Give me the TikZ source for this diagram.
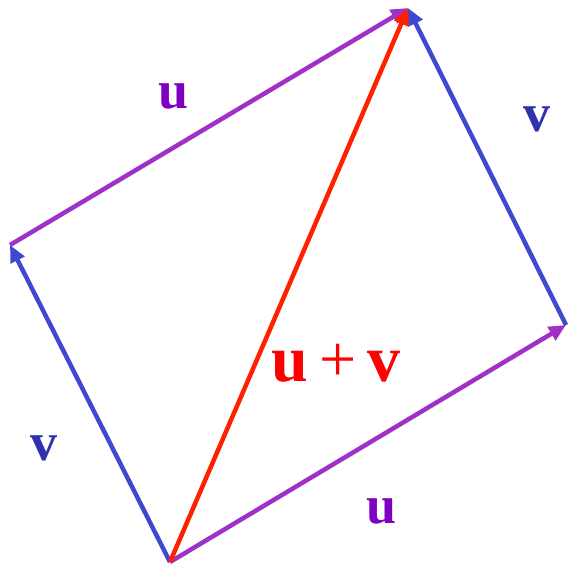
\documentclass[tikz,border=0pt]{standalone}
\usepackage{fontspec}
\setmainfont{Liberation Serif}
\usetikzlibrary{arrows.meta}
\definecolor{vecu}{RGB}{160,48,200}
\definecolor{vecv}{RGB}{64,72,210}
\definecolor{vecs}{RGB}{255,32,0}
\definecolor{labu}{RGB}{128,0,192}
\definecolor{labv}{RGB}{48,48,176}
\definecolor{labs}{RGB}{255,0,0}
\tikzset{
  vec/.style={line width=4.5pt, -{Triangle[length=17pt,width=15pt]}},
  lab/.style={font=\bfseries\fontsize{54}{54}\selectfont, inner sep=0pt}
}
\begin{document}
\begin{tikzpicture}[x=1pt,y=-1pt]
\useasboundingbox (0,0) rectangle (568,569);
\coordinate (O) at (170,562);
\coordinate (L) at (10,245);
\coordinate (R) at (566,325);
\coordinate (T) at (408,8);
\draw[vec, vecu] (O) -- (R);
\draw[vec, vecv] (O) -- (L);
\draw[vec, vecv] (R) -- (T);
\draw[vec, vecu] (L) -- (T);
\draw[vec, vecs] (O) -- (T);
\node[lab, text=labu] (u1) at (174,96) {u};
\node[lab, text=labv] (v1) at (537,119) {v};
\node[lab, text=labv] (v2) at (44,448) {v};
\node[lab, text=labu] (u2) at (382,511) {u};
\node[lab, text=labs, font=\bfseries\fontsize{66}{66}\selectfont] (uv) at (336,363) {u\,{\mdseries +}\,v};
\end{tikzpicture}
\end{document}
